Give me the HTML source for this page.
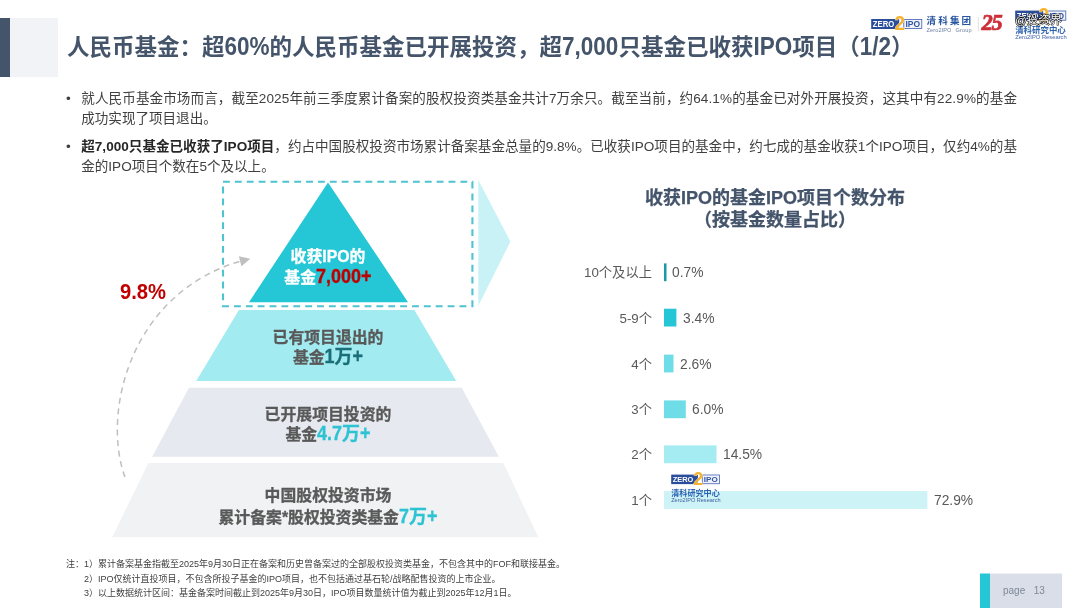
<!DOCTYPE html>
<html lang="zh-CN">
<head>
<meta charset="utf-8">
<title>人民币基金</title>
<style>
  html, body { margin: 0; padding: 0; background: #ffffff; }
  body { width: 1080px; height: 608px; position: relative; overflow: hidden;
         font-family: "Liberation Sans", "Noto Sans CJK SC", sans-serif; color: #595959; }
  .abs { position: absolute; white-space: nowrap; }
  #shapes { position: absolute; left: 0; top: 0; width: 1080px; height: 608px; }
  .title { left: 67px; top: 32px; font-size: 22.5px; line-height: 32px; font-weight: bold; color: #44546a; }
  .tl { display:inline-block; transform: scaleY(1.13); transform-origin: 50% 74.4%; }
  .body { font-size: 13.55px; line-height: 21px; color: #404040; }
  .body b { color: #262626; }
  .dot { font-size: 13.55px; line-height: 21px; color: #404040; }
  .pyr { font-size: 15.85px; line-height: 22px; font-weight: bold; -webkit-text-stroke: 0.3px currentColor; text-align: center; color: #595959; transform: translateX(-50%); }
  .num { font-size: 18px; }
  .num span { display:inline-block; transform: scaleY(1.1); transform-origin: 50% 76%; }
  .ctitle { font-size: 18px; line-height: 22px; font-weight: bold; -webkit-text-stroke: 0.25px currentColor; text-align: center; color: #44546a; transform: translateX(-50%); }
  .cat { font-size: 13.3px; line-height: 18px; color: #595959; text-align: right; transform: translateX(-100%); }
  .val { font-size: 13.8px; line-height: 18px; color: #595959; }
  .wm { color:#ffffff; -webkit-text-stroke: 1.1px #000000; paint-order: stroke fill; font-weight: normal; }
  .note { font-size: 9px; line-height: 14px; color: #404040; }
</style>
</head>
<body>

<svg id="shapes" viewBox="0 0 1080 608" width="1080" height="608">
  <!-- header block -->
  <rect x="0" y="18" width="10" height="59" fill="#44546a"/>
  <rect x="10" y="18" width="48" height="59" fill="#f2f3f7"/>

  <!-- pyramid -->
  <polygon points="328,182.4 408,302.2 249,302.2" fill="#25c6d6"/>
  <polygon points="238.9,310 414.4,310 456.2,381.1 196.2,381.1" fill="#a2ebf1"/>
  <polygon points="188.9,387.8 461.8,387.8 498.9,456.7 152.2,456.7" fill="#e6e9ef"/>
  <polygon points="148.4,462.9 503.3,462.9 538.4,537.3 112.2,537.3" fill="#f1f2f3"/>

  <!-- dashed box -->
  <rect x="223" y="181.8" width="249.4" height="124.4" fill="none" stroke="#4ec4d0" stroke-width="2.1" stroke-dasharray="6.87 5"/>

  <!-- light arrow triangle -->
  <polygon points="478.3,180 510.4,241.6 478.3,305.8" fill="#c9f2f6"/>

  <!-- dashed arc with arrow -->
  <path d="M125,477 C101.6,413.6 129.4,292.3 242.6,260.5" fill="none" stroke="#bfbfbf" stroke-width="1.5" stroke-dasharray="6 4.6"/>
  <polygon points="250.3,258.8 238.9,256.2 241.4,266.2" fill="#bfbfbf"/>

  <!-- bars -->
  <rect x="664" y="263.4" width="2.5" height="17.8" fill="#1b9aa6"/>
  <rect x="664" y="308.7" width="12.4" height="17.8" fill="#25c6d6"/>
  <rect x="664" y="354.6" width="9.5" height="17.8" fill="#6fdde8"/>
  <rect x="664" y="400.4" width="21.8" height="17.8" fill="#6fdde8"/>
  <rect x="664" y="445.4" width="52.5" height="17.8" fill="#a5ecf2"/>
  <rect x="664" y="491.1" width="263.4" height="17.8" fill="#cdf3f7"/>

  <!-- logos -->
  <g transform="translate(871.2,19) scale(1.0000)" font-family="Liberation Sans, sans-serif" font-weight="bold">
    <rect x="0" y="0" width="28" height="10" fill="#2a4d9b"/>
    <rect x="32.6" y="0.4" width="18" height="9.2" fill="#f1f2fb" stroke="#3d5fae" stroke-width="0.8"/>
    <text x="1.6" y="8.1" font-size="8.4" fill="#ffffff" textLength="21.5" lengthAdjust="spacingAndGlyphs">ZERO</text>
    <text x="34.3" y="8.1" font-size="8.4" fill="#3156a6" textLength="14.6" lengthAdjust="spacingAndGlyphs">IPO</text>
    <text x="23.2" y="11.3" font-size="20" fill="#f6b330" stroke="#ffffff" stroke-width="0.5" paint-order="stroke" textLength="10.5" lengthAdjust="spacingAndGlyphs">2</text>
  </g>
  <g transform="translate(1015.2,10.6) scale(1.0000)" font-family="Liberation Sans, sans-serif" font-weight="bold">
    <rect x="0" y="0" width="28" height="10" fill="#2a4d9b"/>
    <rect x="32.6" y="0.4" width="18" height="9.2" fill="#f1f2fb" stroke="#3d5fae" stroke-width="0.8"/>
    <text x="1.6" y="8.1" font-size="8.4" fill="#ffffff" textLength="21.5" lengthAdjust="spacingAndGlyphs">ZERO</text>
    <text x="34.3" y="8.1" font-size="8.4" fill="#3156a6" textLength="14.6" lengthAdjust="spacingAndGlyphs">IPO</text>
    <text x="23.2" y="11.3" font-size="20" fill="#f6b330" stroke="#ffffff" stroke-width="0.5" paint-order="stroke" textLength="10.5" lengthAdjust="spacingAndGlyphs">2</text>
  </g>
  <g transform="translate(671.2,474.6) scale(0.9529)" font-family="Liberation Sans, sans-serif" font-weight="bold">
    <rect x="0" y="0" width="28" height="10" fill="#2a4d9b"/>
    <rect x="32.6" y="0.4" width="18" height="9.2" fill="#f1f2fb" stroke="#3d5fae" stroke-width="0.8"/>
    <text x="1.6" y="8.1" font-size="8.4" fill="#ffffff" textLength="21.5" lengthAdjust="spacingAndGlyphs">ZERO</text>
    <text x="34.3" y="8.1" font-size="8.4" fill="#3156a6" textLength="14.6" lengthAdjust="spacingAndGlyphs">IPO</text>
    <text x="23.2" y="11.3" font-size="20" fill="#f6b330" stroke="#ffffff" stroke-width="0.5" paint-order="stroke" textLength="10.5" lengthAdjust="spacingAndGlyphs">2</text>
  </g>
  <line x1="978.3" y1="17" x2="978.3" y2="31.5" stroke="#d9d9d9" stroke-width="0.8"/>
  <!-- footer -->
  <rect x="980" y="573.5" width="10" height="35" fill="#25c6d6"/>
  <rect x="990" y="573.5" width="72" height="35" fill="#d9dee8"/>
</svg>

<div class="abs title">人民币基金：超<span class="tl">60%</span>的人民币基金已开展投资，超<span class="tl">7,000</span>只基金已收获<span class="tl">IPO</span>项目（<span class="tl">1/2</span>）</div>

<div class="abs dot" style="left:66px; top:87.5px;">•</div>
<div id="l1" class="abs body" style="left:81.25px; top:87.5px; letter-spacing:0.113px;">就人民币基金市场而言，截至2025年前三季度累计备案的股权投资类基金共计7万余只。截至当前，约64.1%的基金已对外开展投资，这其中有22.9%的基金</div>
<div id="l2" class="abs body" style="left:81.25px; top:108.25px;">成功实现了项目退出。</div>
<div class="abs dot" style="left:66px; top:136px;">•</div>
<div id="l3" class="abs body" style="left:81.25px; top:136px; letter-spacing:0.021px;"><b>超7,000只基金已收获了IPO项目</b>，约占中国股权投资市场累计备案基金总量的9.8%。已收获IPO项目的基金中，约七成的基金收获1个IPO项目，仅约4%的基</div>
<div id="l4" class="abs body" style="left:81.25px; top:156.25px;">金的IPO项目个数在5个及以上。</div>

<!-- pyramid text -->
<div class="abs pyr" style="left:328px; top:246px; color:#ffffff;">收获IPO的</div>
<div class="abs pyr" style="left:328px; top:266px; color:#ffffff;">基金<span class="num" style="color:#c00000"><span>7,000+</span></span></div>
<div class="abs pyr" style="left:328px; top:327px;">已有项目退出的</div>
<div class="abs pyr" style="left:328px; top:346.4px;">基金<span class="num" style="color:#1a6f78"><span>1</span>万<span>+</span></span></div>
<div class="abs pyr" style="left:328px; top:403.6px;">已开展项目投资的</div>
<div class="abs pyr" style="left:328px; top:423.4px;">基金<span class="num" style="color:#2cc3d3"><span>4.7</span>万<span>+</span></span></div>
<div class="abs pyr" style="left:328px; top:485.2px;">中国股权投资市场</div>
<div class="abs pyr" style="left:328px; top:505.7px;">累计备案*股权投资类基金<span class="num" style="color:#2cc3d3"><span>7</span>万<span>+</span></span></div>

<div class="abs" style="left:120px; top:280px; font-size:20.2px; line-height:24px; font-weight:bold; color:#c00000; transform:scaleY(1.05); transform-origin:50% 50%;">9.8%</div>

<!-- chart -->
<div class="abs ctitle" style="left:775px; top:186.5px;">收获IPO的基金IPO项目个数分布<br>（按基金数量占比）</div>

<div class="abs cat" style="left:652px; top:264.3px;">10个及以上</div>
<div class="abs cat" style="left:652px; top:309.6px;">5-9个</div>
<div class="abs cat" style="left:652px; top:355.5px;">4个</div>
<div class="abs cat" style="left:652px; top:401.3px;">3个</div>
<div class="abs cat" style="left:652px; top:446.3px;">2个</div>
<div class="abs cat" style="left:652px; top:492.0px;">1个</div>

<div class="abs val" style="left:672px; top:264.3px;">0.7%</div>
<div class="abs val" style="left:683px; top:309.6px;">3.4%</div>
<div class="abs val" style="left:680px; top:355.5px;">2.6%</div>
<div class="abs val" style="left:692px; top:401.3px;">6.0%</div>
<div class="abs val" style="left:723px; top:446.3px;">14.5%</div>
<div class="abs val" style="left:934px; top:492.0px;">72.9%</div>


<!-- logo texts -->
<div class="abs" style="left:926.5px; top:14px; font-size:9.6px; line-height:14px; font-weight:bold; letter-spacing:2.1px; color:#27559f;">清科集团</div>
<div class="abs" style="left:926.5px; top:26.5px; font-size:5.6px; line-height:7px; color:#6d7f9f; letter-spacing:0.1px;">Zero2IPO<span style="display:inline-block;width:4px"></span>Group</div>
<div class="abs" style="left:981.5px; top:10px; font-family:'Liberation Serif',serif; font-size:22.5px; line-height:26px; font-weight:bold; font-style:italic; color:#cc2f3a; -webkit-text-stroke:0.7px #cc2f3a; letter-spacing:-1.2px;">25</div>
<div class="abs" style="left:1015.2px; top:24.1px; font-size:8.45px; line-height:12px; font-weight:bold; color:#2f63ad;">清科研究中心</div>
<div class="abs" style="left:1015.2px; top:34px; font-size:5.8px; line-height:7px; color:#3f62a8;">Zero2IPO Research</div>
<div class="abs wm" style="left:1015px; top:12.3px; font-size:11.6px; line-height:16px;">@投资界</div>
<div class="abs" style="left:671.2px; top:488.2px; font-size:8.1px; line-height:12px; font-weight:bold; color:#2a62b0;">清科研究中心</div>
<div class="abs" style="left:671.2px; top:496.7px; font-size:5.55px; line-height:7px; color:#3b5c9d;">Zero2IPO Research</div>

<!-- footnotes -->
<div id="n1" class="abs note" style="left:66px; top:557.25px;">注：1）累计备案基金指截至2025年9月30日正在备案和历史曾备案过的全部股权投资类基金，不包含其中的FOF和联接基金。</div>
<div id="n2" class="abs note" style="left:84px; top:571.7px;">2）IPO仅统计直投项目，不包含所投子基金的IPO项目，也不包括通过基石轮/战略配售投资的上市企业。</div>
<div id="n3" class="abs note" style="left:84px; top:586px;">3）以上数据统计区间：基金备案时间截止到2025年9月30日，IPO项目数量统计值为截止到2025年12月1日。</div>

<div class="abs" style="left:1003px; top:584px; font-size:10px; line-height:14px; color:#7f8899;">page<span style="display:inline-block;width:8.4px"></span>13</div>

</body>
</html>
